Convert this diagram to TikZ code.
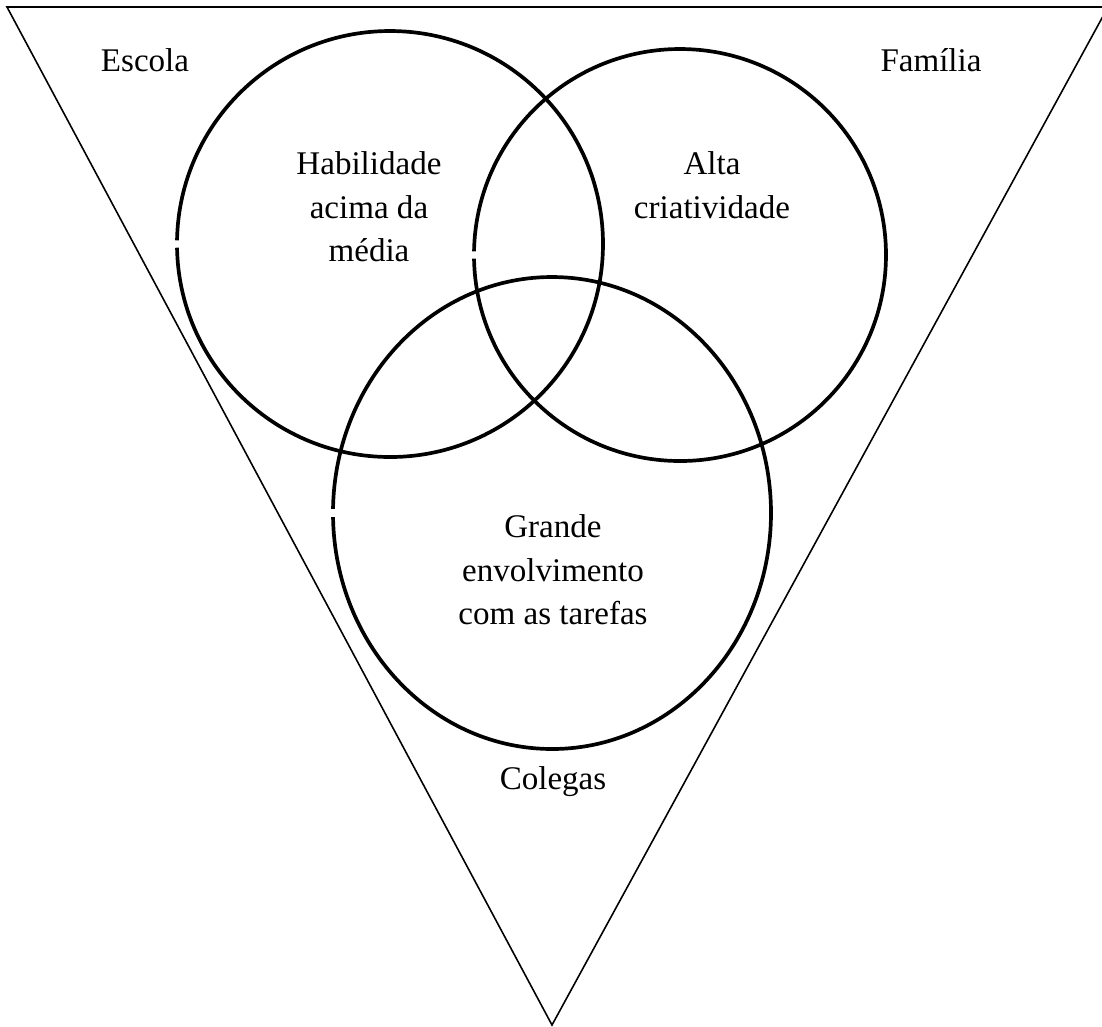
\documentclass[tikz,border=0pt]{standalone}
\usepackage{fontspec}
\setmainfont{Liberation Serif}
\tikzset{
  ring/.style={line width=1.05pt},
  edge/.style={line width=0.45pt},
  txt/.style={font=\fontsize{9.4}{12.4}\selectfont, align=center, inner sep=0pt}
}

\begin{document}
\begin{tikzpicture}[x=0.01cm,y=-0.01cm]
  \useasboundingbox (0,0) rectangle (1102,1026);
  % outer triangle, right corner runs off the page
  \begin{scope}
    \clip (0,0) rectangle (1102,1026);
    \draw[edge] (7,7) -- (1108,7) -- (552,1025) -- cycle;
  \end{scope}
  % the three rings (small gap left where each was started)
  \draw[ring] ([shift={(181:213)}]390,244) arc[start angle=181, end angle=539, radius=213];
  \draw[ring] ([shift={(181:206)}]680,255) arc[start angle=181, end angle=539, radius=206];
  \draw[ring] ([shift={(181:219 and 236)}]552,513) arc[start angle=181, end angle=539, x radius=219, y radius=236];
  % labels
  \node[txt] (escola) at (145,60) {Escola};
  \node[txt] (familia) at (931,60) {Família};
  \node[txt] (habilidade) at (369,207) {Habilidade\\acima da\\média};
  \node[txt] (criatividade) at (712,185) {Alta\\criatividade};
  \node[txt] (envolvimento) at (553,570) {Grande\\envolvimento\\com as tarefas};
  \node[txt] (colegas) at (553,782) {Colegas};
\end{tikzpicture}
\end{document}
